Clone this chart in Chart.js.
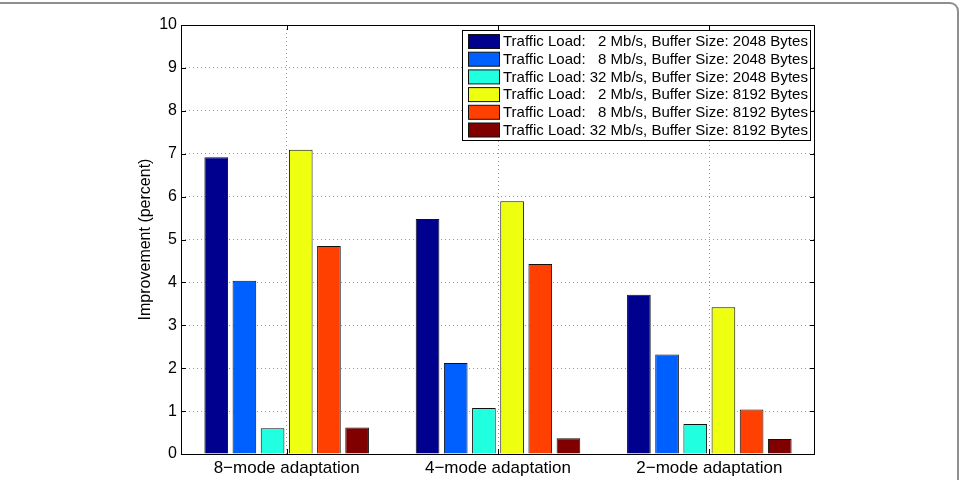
<!DOCTYPE html>
<html>
<head>
<meta charset="utf-8">
<script src="https://cdn.jsdelivr.net/npm/chart.js@4/dist/chart.umd.min.js"></script>
<style>
  html, body { margin: 0; padding: 0; background: #fff; overflow: hidden; }
  #wrap { position: relative; width: 960px; height: 480px; }
  #frame {
    position: absolute; left: -20px; top: 2px; width: 979px; height: 520px;
    box-sizing: border-box; border-top: 2px solid #8f8f8f; border-right: 2px solid #8f8f8f;
    border-top-right-radius: 9px; pointer-events: none;
  }
</style>
</head>
<body>
<div id="wrap">
  <canvas id="myChart" width="960" height="480"></canvas>
  <div id="frame"></div>
</div>
<script>
const categories = ['8\u2212mode adaptation', '4\u2212mode adaptation', '2\u2212mode adaptation'];

const seriesLabels = [
    'Traffic Load:   2 Mb/s, Buffer Size: 2048 Bytes',
    'Traffic Load:   8 Mb/s, Buffer Size: 2048 Bytes',
    'Traffic Load: 32 Mb/s, Buffer Size: 2048 Bytes',
    'Traffic Load:   2 Mb/s, Buffer Size: 8192 Bytes',
    'Traffic Load:   8 Mb/s, Buffer Size: 8192 Bytes',
    'Traffic Load: 32 Mb/s, Buffer Size: 8192 Bytes'
];

const load2buf2048 = [6.92, 5.48, 3.71];
const load8buf2048 = [4.04, 2.12, 2.32];
const load32buf2048 = [0.60, 1.07, 0.70];
const load2buf8192 = [7.09, 5.89, 3.42];
const load8buf8192 = [4.85, 4.43, 1.04];
const load32buf8192 = [0.62, 0.37, 0.35];

const yTicks = [0, 1, 2, 3, 4, 5, 6, 7, 8, 9, 10];

const colors = ['#00008f', '#0060ff', '#20ffdf', '#efff10', '#ff4000', '#800000'];
const fontFamily = "'Liberation Sans', Arial, Helvetica, sans-serif";

const seriesValues = [load2buf2048, load8buf2048, load32buf2048, load2buf8192, load8buf8192, load32buf8192];

const datasets = seriesValues.map((vals, i) => {
    return {
        label: seriesLabels[i],
        data: vals,
        backgroundColor: colors[i],
        borderColor: '#111',
        borderWidth: 1,
        categoryPercentage: 0.8,
        barPercentage: 0.84
    };
});

// box round the plot, inward tick marks and the legend
const matlabBox = {
    id: 'matlabBox',
    afterDatasetsDraw(chart) {
        const ctx = chart.ctx;
        const a = chart.chartArea;
        const x = chart.scales.x;
        const y = chart.scales.y;
        ctx.save();
        ctx.strokeStyle = '#000';
        ctx.lineWidth = 1;
        ctx.strokeRect(Math.round(a.left) + 0.5, Math.round(a.top) + 0.5,
            Math.round(a.width) - 1, Math.round(a.height));

        ctx.beginPath();
        yTicks.forEach(v => {
            const py = Math.round(y.getPixelForValue(v)) + 0.5;
            ctx.moveTo(a.left, py);
            ctx.lineTo(a.left + 5, py);
            ctx.moveTo(a.right, py);
            ctx.lineTo(a.right - 5, py);
        });
        categories.forEach((c, i) => {
            const px = Math.round(x.getPixelForValue(i)) + 0.5;
            ctx.moveTo(px, a.bottom);
            ctx.lineTo(px, a.bottom - 5);
            ctx.moveTo(px, a.top);
            ctx.lineTo(px, a.top + 5);
        });
        ctx.stroke();

        // legend
        const lx = 462.5, ly = 30.5, lw = 348, lh = 110;
        ctx.fillStyle = '#fff';
        ctx.fillRect(lx, ly, lw, lh);
        ctx.strokeRect(lx, ly, lw, lh);
        ctx.font = '15px ' + fontFamily;
        ctx.textBaseline = 'middle';
        ctx.textAlign = 'left';
        chart.data.datasets.forEach((ds, i) => {
            const cy = 41.5 + i * 17.7;
            ctx.fillStyle = ds.backgroundColor;
            ctx.fillRect(468.5, cy - 7, 31, 14);
            ctx.strokeStyle = '#111';
            ctx.strokeRect(468.5, cy - 7, 31, 14);
            ctx.fillStyle = '#000';
            ctx.fillText(ds.label, 503, cy + 0.5);
        });
        ctx.restore();
    }
};

let myChart = null;

function createChart() {
    if (myChart !== null) {
        myChart.destroy();
    }
    const ctx = document.getElementById('myChart').getContext('2d');
    myChart = new Chart(ctx, {
        type: 'bar',
        data: {
            labels: categories,
            datasets: datasets
        },
        options: {
            responsive: false,
            animation: false,
            layout: {
                padding: { left: 136, right: 145, top: 25, bottom: 0 }
            },
            plugins: {
                legend: { display: false },
                tooltip: { enabled: false }
            },
            scales: {
                x: {
                    offset: true,
                    afterFit: (scale) => { scale.height = 26; },
                    grid: {
                        offset: false,
                        drawTicks: false,
                        color: (c) => c.index === undefined ? 'transparent' : '#9a9a9a',
                        lineWidth: 1
                    },
                    border: { display: false, dash: [1, 3] },
                    ticks: {
                        color: '#000',
                        padding: 4,
                        maxRotation: 0,
                        autoSkip: false,
                        font: { size: 17, family: fontFamily }
                    }
                },
                y: {
                    min: 0,
                    max: 10,
                    afterFit: (scale) => { scale.width = 45; },
                    afterBuildTicks: (scale) => {
                        scale.ticks = yTicks.map(v => ({ value: v }));
                    },
                    title: {
                        display: true,
                        text: 'Improvement (percent)',
                        color: '#000',
                        padding: 0,
                        font: { size: 16, family: fontFamily }
                    },
                    grid: {
                        drawTicks: false,
                        color: (c) => (c.tick && (c.tick.value === 0 || c.tick.value === 10)) ? 'transparent' : '#9a9a9a',
                        lineWidth: 1
                    },
                    border: { display: false, dash: [1, 3] },
                    ticks: {
                        color: '#000',
                        padding: 4,
                        font: { size: 16, family: fontFamily }
                    }
                }
            }
        },
        plugins: [matlabBox]
    });
}

createChart();
</script>
</body>
</html>
